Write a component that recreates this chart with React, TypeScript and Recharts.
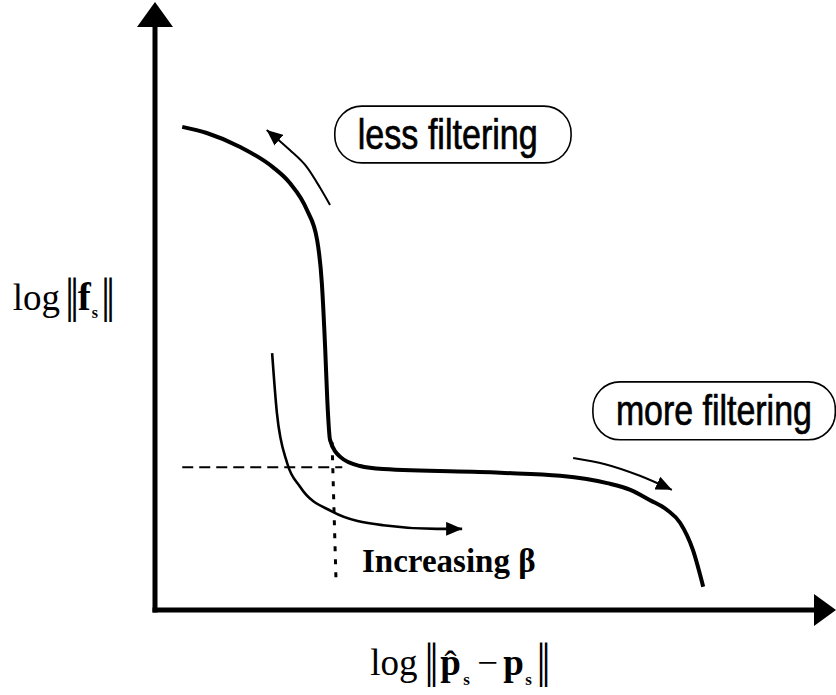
import React from 'react';
import {
  LineChart,
  Line,
  XAxis,
  YAxis,
  ReferenceLine,
  ReferenceDot,
  ReferenceArea,
} from 'recharts';

// schematic L-curve, both axes in arbitrary log units (0..10)
const curveX = [0.4, 0.76, 1.25, 1.73, 1.98, 2.23, 2.38, 2.45, 2.5, 2.53, 2.57, 2.72, 3.01, 3.35, 5.07, 5.95, 6.64, 6.98, 7.27, 7.52, 7.71, 7.9, 8.05];
const curveY = [7.92, 7.82, 7.59, 7.26, 7.0, 6.56, 6.07, 5.36, 4.26, 3.44, 2.79, 2.51, 2.36, 2.31, 2.25, 2.2, 2.08, 1.97, 1.8, 1.64, 1.43, 0.98, 0.38];

// curve shifted as beta increases
const betaX = [1.72, 1.79, 1.94, 2.13, 2.61, 3.35, 4.14, 4.51];
const betaY = [4.21, 3.23, 2.41, 2.02, 1.61, 1.39, 1.33, 1.33];

// direction arrows
const lessX = [1.64, 1.98, 2.23, 2.42, 2.57];
const lessY = [7.87, 7.54, 7.26, 6.93, 6.64];
const moreX = [6.14, 6.61, 7.12, 7.59];
const moreY = [2.49, 2.39, 2.2, 1.97];

// corner of the curve
const cornerX = 2.6;
const cornerY = 2.34;

const toRows = (xs: number[], ys: number[]) => xs.map((x, i) => ({ x, y: ys[i] }));

const curveData = toRows(curveX, curveY);
const betaData = toRows(betaX, betaY);
const lessData = toRows(lessX, lessY);
const moreData = toRows(moreX, moreY);

const SERIF = '"Liberation Serif", "Times New Roman", serif';
const SANS = '"Liberation Sans", Arial, sans-serif';

const UpHead = (p: any) => (
  <polygon points={`${p.cx},${p.cy + 2} ${p.cx - 18},${p.cy + 27} ${p.cx + 18},${p.cy + 27}`} fill="#000" />
);
const RightHead = (p: any) => (
  <polygon points={`${p.cx},${p.cy} ${p.cx - 22},${p.cy - 16} ${p.cx - 22},${p.cy + 16}`} fill="#000" />
);

const filterBox = (label: string, len: number) => (p: any) => (
  <g>
    <rect x={p.x} y={p.y} width={p.width} height={p.height} rx={27} fill="#fff" stroke="#000" strokeWidth={1.6} />
    <text
      x={p.x + 23}
      y={p.y + 43}
      fontFamily={SANS}
      fontSize={42}
      textLength={len}
      lengthAdjust="spacingAndGlyphs"
      fill="#000"
      stroke="#000"
      strokeWidth={0.7}
    >
      {label}
    </text>
  </g>
);

const YLabel = (p: any) => {
  const x = p.cx;
  const y = p.cy;
  return (
    <text fontFamily={SERIF} fill="#000">
      <tspan x={x} y={y} fontSize={37}>log</tspan>
      <tspan x={x + 52} y={y + 2} fontSize={48}>|</tspan>
      <tspan x={x + 57} y={y + 2} fontSize={48}>|</tspan>
      <tspan x={x + 65} y={y} fontSize={39} fontWeight="bold">f</tspan>
      <tspan x={x + 79} y={y + 8} fontSize={16} fontWeight="bold">s</tspan>
      <tspan x={x + 88} y={y + 2} fontSize={48}>|</tspan>
      <tspan x={x + 93} y={y + 2} fontSize={48}>|</tspan>
    </text>
  );
};

const XLabel = (p: any) => {
  const x = p.cx;
  const y = p.cy;
  return (
    <text fontFamily={SERIF} fill="#000">
      <tspan x={x} y={y} fontSize={37}>log</tspan>
      <tspan x={x + 54} y={y + 2} fontSize={48}>|</tspan>
      <tspan x={x + 59} y={y + 2} fontSize={48}>|</tspan>
      <tspan x={x + 70} y={y} fontSize={37} fontWeight="bold">p</tspan>
      <tspan x={x + 74} y={y + 2} fontSize={37}>ˆ</tspan>
      <tspan x={x + 93} y={y + 10} fontSize={17} fontWeight="bold">s</tspan>
      <tspan x={x + 107} y={y} fontSize={37}>−</tspan>
      <tspan x={x + 133} y={y} fontSize={37} fontWeight="bold">p</tspan>
      <tspan x={x + 155} y={y + 10} fontSize={17} fontWeight="bold">s</tspan>
      <tspan x={x + 166} y={y + 2} fontSize={48}>|</tspan>
      <tspan x={x + 171} y={y + 2} fontSize={48}>|</tspan>
    </text>
  );
};

const BetaLabel = (p: any) => (
  <text x={p.cx} y={p.cy} fontFamily={SERIF} fontSize={33} fontWeight="bold" fill="#000">
    Increasing β
  </text>
);

const App: React.FC = () => {
  return (
    <div style={{ position: 'absolute', left: 0, top: 0, background: '#fff' }}>
      <svg width={0} height={0} style={{ position: 'absolute' }}>
        <defs>
          <marker
            id="head"
            viewBox="0 0 16 14"
            refX={16}
            refY={7}
            markerWidth={16}
            markerHeight={14}
            markerUnits="userSpaceOnUse"
            orient="auto-start-reverse"
          >
            <path d="M0,0 L16,7 L0,14 Z" fill="#000" />
          </marker>
        </defs>
      </svg>
      <LineChart width={836} height={695} margin={{ top: 0, right: 0, left: 155, bottom: 85 }}>
        <XAxis dataKey="x" type="number" domain={[0, 10]} allowDataOverflow hide />
        <YAxis dataKey="y" type="number" domain={[0, 10]} allowDataOverflow hide />

        {/* axes */}
        <ReferenceLine
          segment={[{ x: 0, y: 0 }, { x: 9.8, y: 0 }]}
          ifOverflow="visible"
          stroke="#000"
          strokeWidth={5}
          strokeLinecap="square"
        />
        <ReferenceLine
          segment={[{ x: 0, y: 0 }, { x: 0, y: 9.7 }]}
          ifOverflow="visible"
          stroke="#000"
          strokeWidth={5}
          strokeLinecap="square"
        />

        <ReferenceLine
          segment={[{ x: 0.4, y: cornerY }, { x: 2.75, y: cornerY }]}
          stroke="#000"
          strokeWidth={2}
          strokeDasharray="11 6"
        />
        <ReferenceLine
          segment={[{ x: cornerX, y: 2.75 }, { x: cornerX + 0.06, y: 0.41 }]}
          stroke="#000"
          strokeWidth={3}
          strokeDasharray="5 8"
        />

        <Line data={curveData} dataKey="y" type="monotone" stroke="#000" strokeWidth={4} dot={false} isAnimationActive={false} />
        <Line data={betaData} dataKey="y" type="monotone" stroke="#000" strokeWidth={2.6} dot={false} markerEnd="url(#head)" isAnimationActive={false} />
        <Line data={lessData} dataKey="y" type="monotone" stroke="#000" strokeWidth={2} dot={false} markerStart="url(#head)" isAnimationActive={false} />
        <Line data={moreData} dataKey="y" type="monotone" stroke="#000" strokeWidth={2} dot={false} markerEnd="url(#head)" isAnimationActive={false} />

        <ReferenceArea x1={2.64} x2={6.11} y1={7.33} y2={8.26} ifOverflow="visible" shape={filterBox('less filtering', 180)} />
        <ReferenceArea x1={6.43} x2={9.99} y1={2.79} y2={3.74} ifOverflow="visible" shape={filterBox('more filtering', 196)} />

        <ReferenceDot x={0} y={10} ifOverflow="visible" shape={UpHead} />
        <ReferenceDot x={10} y={0} ifOverflow="visible" shape={RightHead} />
        <ReferenceDot x={-2.09} y={4.92} ifOverflow="visible" shape={YLabel} />
        <ReferenceDot x={3.16} y={-1.07} ifOverflow="visible" shape={XLabel} />
        <ReferenceDot x={3.04} y={0.62} ifOverflow="visible" shape={BetaLabel} />
      </LineChart>
    </div>
  );
};

export default App;
